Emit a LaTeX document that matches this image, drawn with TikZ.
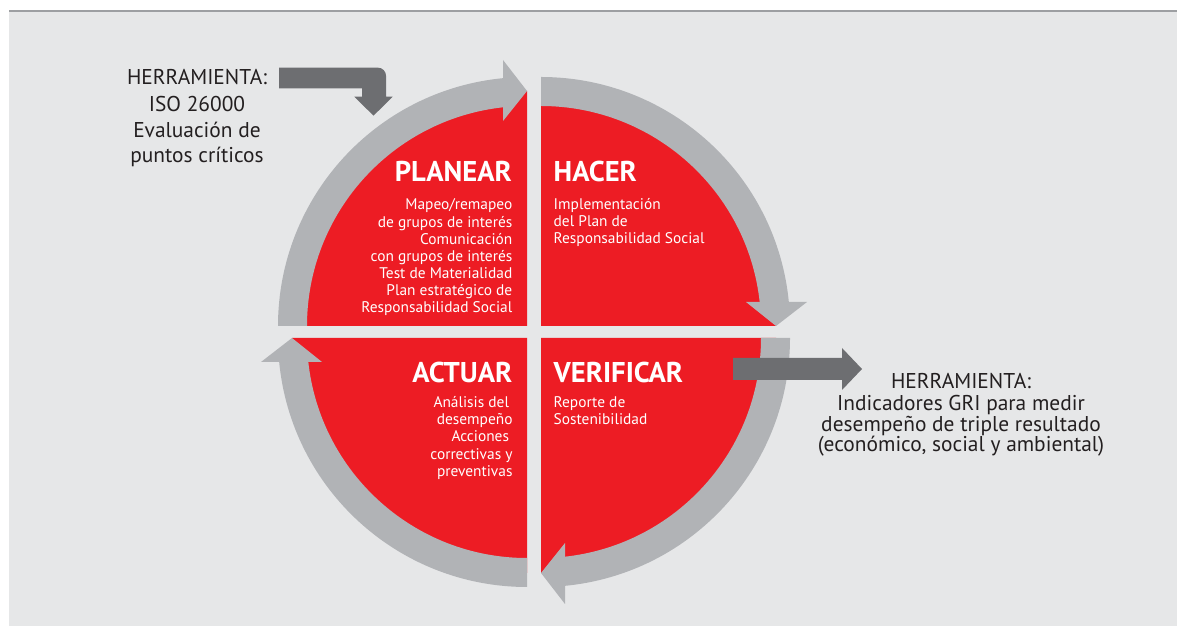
\documentclass[tikz,border=0pt]{standalone}
\usepackage{fontspec}
\setmainfont{PT Sans}
\definecolor{pdcared}{HTML}{ED1C24}
\definecolor{ringgray}{HTML}{B1B3B6}
\definecolor{arrowgray}{HTML}{6D6E71}
\definecolor{panelgray}{HTML}{E6E7E8}
\definecolor{linegray}{HTML}{9D9FA2}
\definecolor{textdark}{HTML}{231F20}
\tikzset{
  qtitle/.style={font=\fontsize{28.6}{30}\selectfont\bfseries, text=white, inner sep=0pt},
  qbody/.style={font=\fontsize{15.4}{17}\selectfont, text=white, inner sep=0pt},
  sidetext/.style={font=\fontsize{21.4}{24}\selectfont, text=textdark, inner sep=0pt, anchor=base},
  toolarrow/.style={fill=arrowgray},
}
\newcommand{\quadpiece}[2]{%
  \begin{scope}[shift={#1},rotate=#2]
    \fill[pdcared] (0,0) -- (180:235) arc[start angle=180,end angle=90,radius=235] -- cycle;
    \fill[ringgray] (180:249) arc[start angle=180,end angle={90+asin(23/249)},radius=249]
      -- ({90+asin(23/220)}:220) arc[start angle={90+asin(23/220)},end angle=180,radius=220] -- cycle;
    \fill[ringgray] (-24,205) -- (0,235) -- (-24,266) -- cycle;
  \end{scope}}
\begin{document}
\begin{tikzpicture}[x=1pt,y=1pt]
  \useasboundingbox (0,0) rectangle (1177,626);
  \fill[white] (0,0) rectangle (1177,626);
  \fill[panelgray] (9,0) rectangle (1177,614);
  \fill[linegray] (9,613.6) rectangle (1177,616);

  % PDCA quadrants
  \quadpiece{(527,300)}{0}
  \quadpiece{(541,300)}{-90}
  \quadpiece{(541,288)}{-180}
  \quadpiece{(527,288)}{90}

  % tool arrows
  \fill[toolarrow] (279,558.3) -- (378,558.3) arc[start angle=90,end angle=0,radius=8]
    -- (386,529.3) -- (392.7,529.3) -- (373.5,510.3) -- (354.3,529.3) -- (362,529.3)
    -- (362,537.7) -- (279,537.7) -- cycle;
  \fill[toolarrow] (733,268) -- (842,268) -- (842,278) -- (862,257) -- (842,236)
    -- (842,246) -- (733,246) -- cycle;

  % titles
  \node[qtitle, anchor=base east] (planear) at (512,444.3) {PLANEAR};
  \node[qtitle, anchor=base west] (hacer) at (553.5,444.3) {HACER};
  \node[qtitle, anchor=base east] (actuar) at (512.5,243.3) {ACTUAR};
  \node[qtitle, anchor=base west] (verificar) at (553.5,243.3) {VERIFICAR};

  % bodies
  \foreach \t [count=\i] in {Mapeo/remapeo, de grupos de interés, Comunicación,
      con grupos de interés, Test de Materialidad, Plan estratégico de, Responsabilidad Social}
    \node[qbody, anchor=base east] (pl\i) at (512.5,{416-17.1*(\i-1)}) {\t};
  \foreach \t [count=\i] in {Implementación, del Plan de, Responsabilidad Social}
    \node[qbody, anchor=base west] (ha\i) at (553.5,{416.7-17.1*(\i-1)}) {\t};
  \foreach \t [count=\i] in {Análisis del\kern3.5pt, desempeño, Acciones\kern3.5pt,
      correctivas y, preventivas}
    \node[qbody, anchor=base east] (ac\i) at (512.7,{218.7-17.3*(\i-1)}) {\t};
  \foreach \t [count=\i] in {Reporte de, Sostenibilidad}
    \node[qbody, anchor=base west] (ve\i) at (553.5,{218.7-17.3*(\i-1)}) {\t};

  % side texts
  \foreach \t/\yy [count=\i] in {HERRAMIENTA:/541, ISO 26000/514.3, Evaluación de/488.7,
      puntos críticos/463.3}
    \node[sidetext] (lt\i) at (197,\yy) {\t};
  \foreach \t/\yy [count=\i] in {HERRAMIENTA:/237.7, Indicadores GRI para medir/215.5,
      desempeño de triple resultado/194.5, {(económico, social y ambiental)}/174.3}
    \node[sidetext] (rt\i) at (961,\yy) {\t};
\end{tikzpicture}
\end{document}
